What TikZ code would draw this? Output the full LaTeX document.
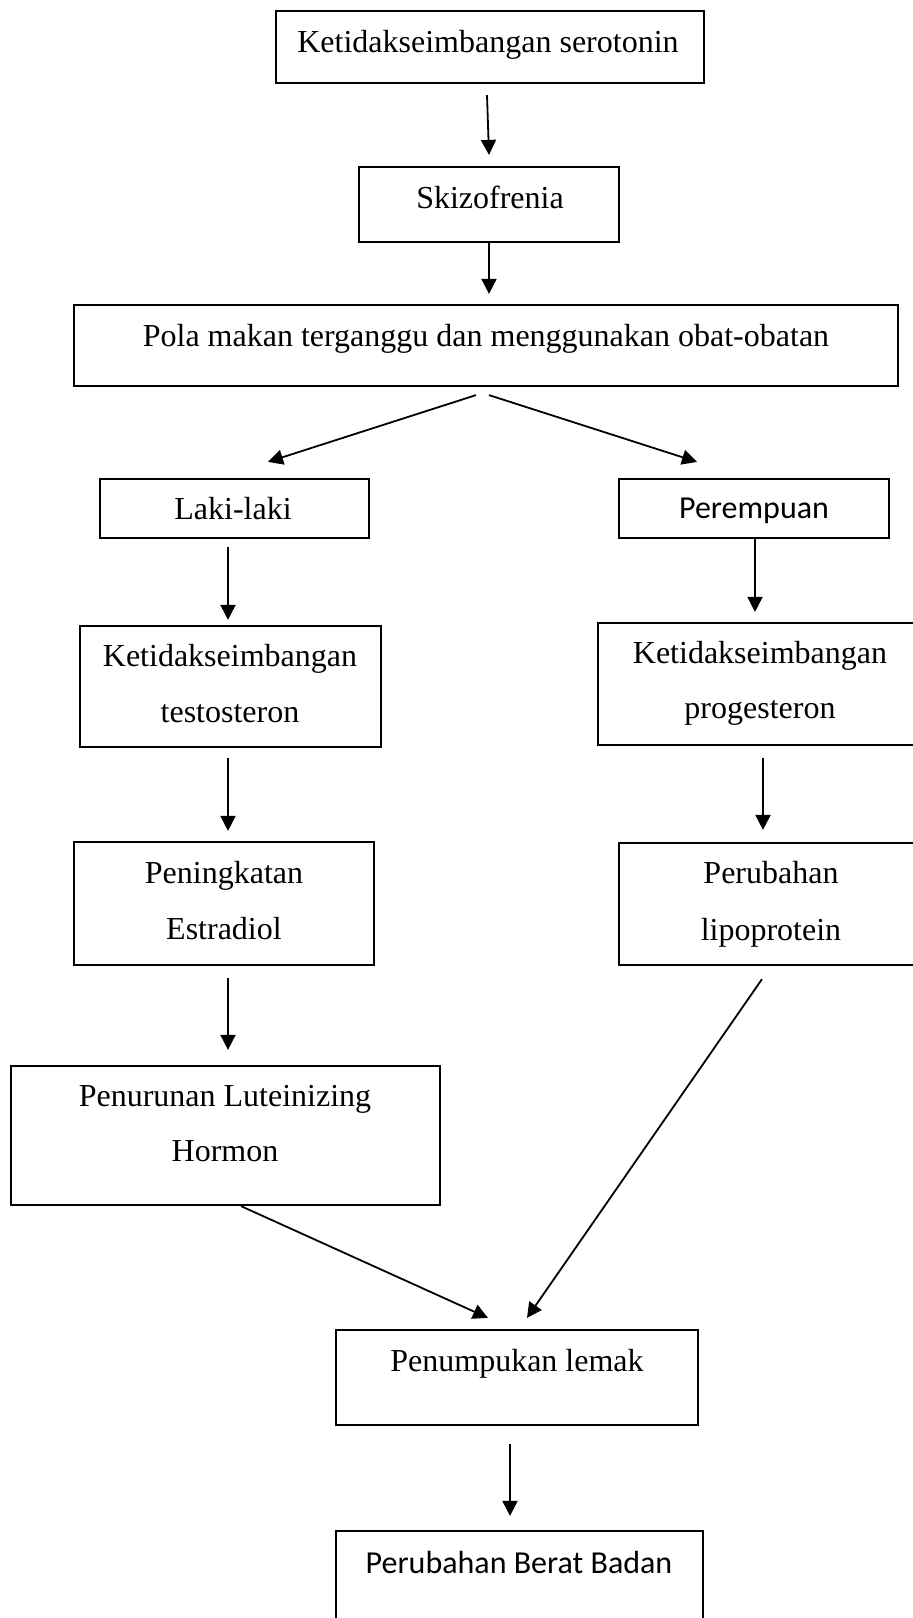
\documentclass[tikz,border=0pt]{standalone}
\usepackage{fontspec}
\setmainfont{Liberation Serif}
\newfontfamily\calib{Carlito}
\usetikzlibrary{arrows.meta,calc}
\tikzset{
  box/.style={draw=black, line width=2.2pt, rectangle, inner sep=0pt},
  txt/.style={anchor=base, inner sep=0pt, font=\fontsize{32}{38}\selectfont},
  stxt/.style={anchor=base, inner sep=0pt, font=\calib\fontsize{32}{38}\selectfont},
  arr/.style={line width=1.8pt, -{Triangle[length=15pt,width=15pt]}}
}
\begin{document}
\begin{tikzpicture}[x=1pt,y=-1pt]
\clip (0,0) rectangle (913,1618);
\fill[white] (0,0) rectangle (913,1618);
% boxes
\node[box, minimum width=428pt, minimum height=72pt] (b1) at (490,47) {};
\node[box, minimum width=260pt, minimum height=75pt] (b2) at (489,204.5) {};
\node[box, minimum width=824pt, minimum height=81pt] (b3) at (486,345.5) {};
\node[box, minimum width=269pt, minimum height=59pt] (lk) at (234.5,508.5) {};
\node[box, minimum width=270pt, minimum height=59pt] (pr) at (754,508.5) {};
\node[box, minimum width=301pt, minimum height=121pt] (tt) at (230.5,686.5) {};
\node[box, minimum width=332pt, minimum height=122pt] (pg) at (764,684) {};
\node[box, minimum width=300pt, minimum height=123pt] (es) at (224,903.5) {};
\node[box, minimum width=311pt, minimum height=122pt] (lp) at (774.5,904) {};
\node[box, minimum width=429pt, minimum height=139pt] (lh) at (225.5,1135.5) {};
\node[box, minimum width=362pt, minimum height=95pt] (pl) at (517,1377.5) {};
\node[box, minimum width=367pt, minimum height=119pt] (bb) at (519.5,1590.5) {};
% texts
\node[txt] (t1) at (488,52) {Ketidakseimbangan serotonin};
\node[txt] (t2) at (490,208) {Skizofrenia};
\node[txt] (t3) at (486,346) {Pola makan terganggu dan menggunakan obat-obatan};
\node[txt] (t4) at (233,519) {Laki-laki};
\node[stxt] (t5) at (754,518) {Perempuan};
\node[txt] (t6a) at (230,666) {Ketidakseimbangan};
\node[txt] (t6b) at (230,722) {testosteron};
\node[txt] (t7a) at (760,663) {Ketidakseimbangan};
\node[txt] (t7b) at (760,718) {progesteron};
\node[txt] (t8a) at (224,883) {Peningkatan};
\node[txt] (t8b) at (224,939) {Estradiol};
\node[txt] (t9a) at (771,883) {Perubahan};
\node[txt] (t9b) at (771,940) {lipoprotein};
\node[txt] (t10a) at (225,1106) {Penurunan Luteinizing};
\node[txt] (t10b) at (225,1161) {Hormon};
\node[txt] (t11) at (517,1371) {Penumpukan lemak};
\node[stxt] (t12) at (519,1573) {Perubahan Berat Badan};
% arrows
\draw[arr] ($(b1.south)+(-3,11)$) -- ($(b2.north)+(0,-11)$);
\draw[arr] (b2.south) -- ($(b3.north)+(3,-10)$);
\draw[arr] ($(b3.south)+(-10,8)$) -- ($(lk.north)+(33.5,-16)$);
\draw[arr] ($(b3.south)+(3,8)$) -- ($(pr.north)+(-57,-16)$);
\draw[arr] ($(lk.south)+(-6.5,8)$) -- ($(tt.north)+(-2.5,-5)$);
\draw[arr] ($(pr.south)+(1,0)$) -- ($(pg.north)+(-9,-10)$);
\draw[arr] ($(tt.south)+(-2.5,10)$) -- ($(es.north)+(4,-10)$);
\draw[arr] ($(pg.south)+(-1,12)$) -- ($(lp.north)+(-11.5,-12)$);
\draw[arr] ($(es.south)+(4,12)$) -- ($(lh.north)+(2.5,-15)$);
\draw[arr] ($(lp.south)+(-12.5,13)$) -- ($(pl.north)+(10,-11)$);
\draw[arr] ($(lh.south)+(15.5,0)$) -- ($(pl.north)+(-29,-11)$);
\draw[arr] ($(pl.south)+(-7,18)$) -- ($(bb.north)+(-9.5,-14)$);
\end{tikzpicture}
\end{document}
